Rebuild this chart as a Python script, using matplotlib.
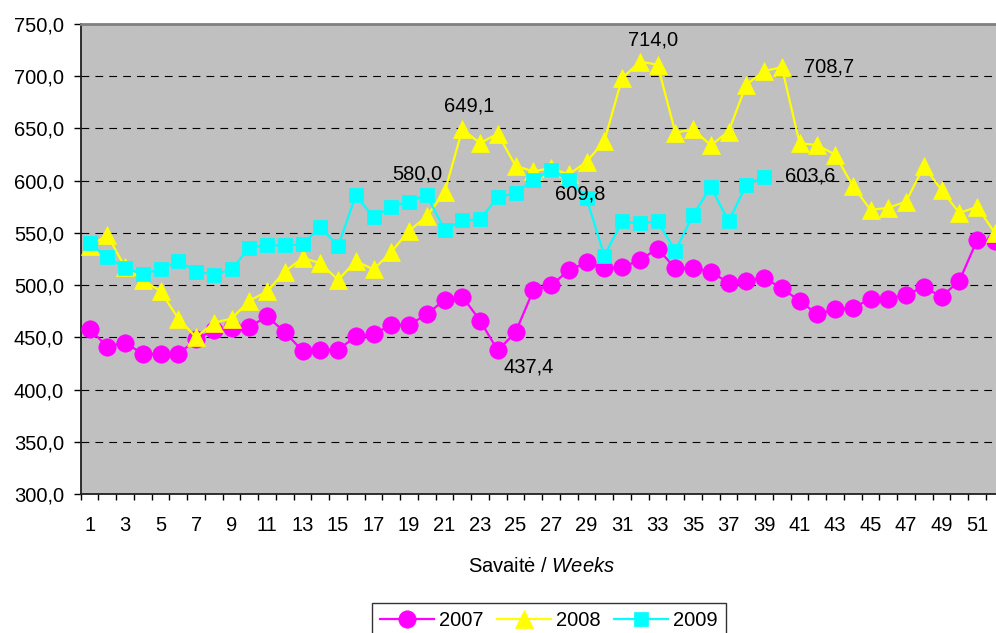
import numpy as np
import matplotlib
matplotlib.use('Agg')
import matplotlib.pyplot as plt
from matplotlib.ticker import FixedLocator, FuncFormatter

plt.rcParams['font.family'] = ['Liberation Sans', 'DejaVu Sans']
plt.rcParams['mathtext.fontset'] = 'custom'
plt.rcParams['mathtext.rm'] = 'Liberation Sans'
plt.rcParams['mathtext.it'] = 'Liberation Sans:italic'

weeks = np.arange(1, 53)

v2007 = [458, 441, 445, 434, 434, 434, 448, 457, 459, 460,
         470, 455, 437, 438, 438, 451, 453, 462, 462, 472,
         486, 489, 466, 437.4, 455, 495, 500, 514, 522, 516,
         517, 524, 535, 516, 516, 513, 502, 504, 507, 497,
         485, 472, 477, 478, 487, 487, 491, 498, 489, 504,
         543, 542]

v2008 = [537, 548, 517, 505, 494, 468, 450, 464, 468, 485,
         494, 513, 526, 521, 505, 523, 515, 532, 552, 566,
         589, 649.1, 636, 645, 614, 609, 612, 606, 618, 638,
         698, 714.0, 711, 646, 649, 634, 647, 692, 705, 708.7,
         636, 634, 625, 595, 572, 574, 580, 614, 591, 569,
         575, 550]

v2009 = [540, 527, 516, 511, 515, 523, 513, 510, 515, 536,
         538, 538, 539, 556, 537, 586, 565, 575, 580.0, 586,
         553, 562, 563, 584, 588, 601, 609.8, 601, 583, 528,
         561, 559, 561, 533, 567, 594, 561, 596, 603.6]

labels = ['2007', '2008', '2009']
y_ticks = np.arange(300, 751, 50)


def comma(v, pos=None):
    return f'{v:.1f}'.replace('.', ',')


def main():
    fig = plt.figure(figsize=(9.96, 6.33), dpi=100)
    ax = fig.add_axes([80.7 / 996, 1 - 494 / 633, 923 / 996, 470 / 633])
    ax.set_facecolor('#C0C0C0')

    series = {'2007': v2007, '2008': v2008, '2009': v2009}
    styles = {
        '2007': dict(color='#FF00FF', marker='o', ms=12.5),
        '2008': dict(color='#FFFF00', marker='^', ms=13),
        '2009': dict(color='#00FFFF', marker='s', ms=10.5),
    }
    for name in labels:
        vals = series[name]
        st = styles[name]
        ax.plot(weeks[:len(vals)], vals, color=st['color'], lw=1.6,
                marker=st['marker'], ms=st['ms'], mfc=st['color'],
                mec=st['color'], mew=0.5, label=name, zorder=3)

    # value labels (series, week, offset in points)
    notes = [('2009', 19, (6, 20)), ('2008', 22, (5, 17)),
             ('2009', 27, (21, -17)), ('2008', 32, (9.5, 15.5)),
             ('2008', 40, (34, 0)), ('2009', 39, (33, 0.5)),
             ('2007', 24, (22.5, -12))]
    for name, wk, off in notes:
        v = series[name][wk - 1]
        ax.annotate(comma(v), xy=(wk, v), xytext=off,
                    textcoords='offset points', ha='center', va='center',
                    fontsize=14.5, color='black', zorder=5)

    ax.set_xlim(0.5, 52.5)
    ax.set_ylim(300, 750)

    ax.set_yticks(y_ticks)
    ax.yaxis.set_major_formatter(FuncFormatter(comma))
    ax.tick_params(axis='y', direction='out', length=5, width=1,
                   labelsize=14.5, pad=7)

    ax.xaxis.set_major_locator(FixedLocator(weeks[::2]))
    ax.xaxis.set_minor_locator(FixedLocator(np.arange(0.5, 53, 1)))
    ax.tick_params(axis='x', which='major', length=0, labelsize=14.5, pad=16)
    ax.tick_params(axis='x', which='minor', direction='out', length=4.5, width=1)

    ax.yaxis.grid(True, color='black', lw=0.8, ls=(0, (7, 5.5)))
    ax.set_axisbelow(True)

    for s in ['left', 'bottom']:
        ax.spines[s].set_color('#202020')
        ax.spines[s].set_linewidth(1.3)
    ax.spines['top'].set_color('#808080')
    ax.spines['top'].set_linewidth(2)
    ax.spines['right'].set_visible(False)

    fig.text(541.5 / 996, 1 - 566 / 633, r'Savaitė / $\mathit{Weeks}$',
             ha='center', va='center', fontsize=14.5)

    leg = fig.legend(loc='upper center', bbox_to_anchor=(549 / 996, 1 - 603 / 633),
                     ncol=3, fontsize=14.5, frameon=True, fancybox=False,
                     edgecolor='black', handlelength=2.7, handletextpad=0.25,
                     columnspacing=0.65, borderpad=0.4, borderaxespad=0)
    leg.get_frame().set_linewidth(1)

    fig.savefig('out.png', dpi=100)


if __name__ == '__main__':
    main()
